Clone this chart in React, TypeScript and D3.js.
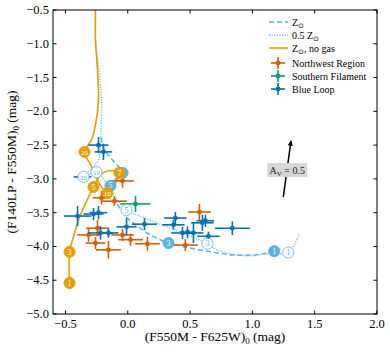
import React from 'react';
import * as d3 from 'd3';

// tick values
const xTicks = [-0.5, 0, 0.5, 1.0, 1.5, 2.0];
const yTicks = [-5.0, -4.5, -4.0, -3.5, -3.0, -2.5, -2.0, -1.5, -1.0, -0.5];

// model tracks [colour, colour]
const noGasTrack = [
  [-0.467, -4.54], [-0.467, -4.08], [-0.443, -3.9], [-0.379, -3.53], [-0.315, -3.27],
  [-0.275, -3.12], [-0.219, -2.94], [-0.155, -2.88], [-0.067, -2.91], [-0.098, -3.06],
  [-0.163, -3.21], [-0.243, -3.02], [-0.299, -2.79], [-0.347, -2.6], [-0.291, -2.42],
  [-0.259, -2.2], [-0.235, -1.83], [-0.243, -1.39], [-0.259, -0.94], [-0.259, -0.5], [-0.259, -0.3],
];
const solarTrack = [
  [1.175, -4.07], [1.087, -4.11], [0.879, -4.13], [0.663, -4.08], [0.463, -4.01],
  [0.327, -3.95], [0.182, -3.83], [0.062, -3.68], [-0.018, -3.55], [-0.075, -3.4],
  [-0.115, -3.25], [-0.139, -3.1], [-0.091, -2.99], [-0.042, -2.91], [-0.123, -2.72],
  [-0.195, -2.54], [-0.215, -2.35],
];
const halfSolarTrack = [
  [1.375, -3.82], [1.288, -4.09], [1.143, -4.1], [0.983, -4.14], [0.823, -4.11],
  [0.703, -4.04], [0.64, -3.96], [0.503, -3.85], [0.302, -3.7], [0.142, -3.58],
  [-0.01, -3.46], [-0.123, -3.21], [-0.251, -2.9], [-0.355, -2.97], [-0.235, -2.72],
  [-0.219, -2.42], [-0.211, -1.83], [-0.237, -1.3], [-0.259, -0.94], [-0.259, -0.3],
];

// age labels (Myr) along the tracks
const noGasAges = [
  ['1', -0.467, -4.54], ['3', -0.467, -4.08], ['5', -0.275, -3.12],
  ['7', -0.067, -2.91], ['10', -0.163, -3.21], ['20', -0.347, -2.6],
];
const solarAges = [
  ['1', 1.175, -4.07], ['3', 0.327, -3.95], ['5', -0.139, -3.1], ['7', -0.042, -2.91],
];
const halfSolarAges = [
  ['1', 1.288, -4.09], ['3', 0.64, -3.96], ['5', -0.01, -3.46], ['10', -0.251, -2.9], ['20', -0.355, -2.97],
];

// observed clusters: [colour, colour, xerr, yerr]
const northwest = [
  [-0.042, -3.03, 0.09, 0.1], [-0.211, -3.28, 0.07, 0.1], [-0.107, -3.33, 0.1, 0.07],
  [-0.243, -3.73, 0.09, 0.12], [-0.315, -3.83, 0.09, 0.1], [-0.259, -3.95, 0.08, 0.09],
  [-0.155, -4.05, 0.1, 0.13], [-0.042, -3.83, 0.09, 0.09], [0.022, -3.9, 0.1, 0.09],
  [0.158, -3.96, 0.1, 0.1], [0.462, -3.98, 0.1, 0.09], [0.575, -3.49, 0.09, 0.12],
];
const southern = [[0.062, -3.37, 0.12, 0.12]];
const blueLoop = [
  [-0.235, -2.5, 0.08, 0.12], [-0.195, -2.6, 0.07, 0.12], [-0.363, -2.97, 0.07, 0.06],
  [-0.403, -3.55, 0.11, 0.15], [-0.275, -3.52, 0.08, 0.09], [-0.235, -3.5, 0.07, 0.1],
  [-0.219, -3.8, 0.1, 0.1], [-0.155, -3.8, 0.08, 0.07], [-0.01, -3.71, 0.08, 0.13],
  [0.134, -3.67, 0.1, 0.09], [0.382, -3.58, 0.09, 0.09], [0.366, -3.68, 0.09, 0.07],
  [0.599, -3.65, 0.09, 0.12], [0.623, -3.62, 0.07, 0.09], [0.839, -3.73, 0.14, 0.1],
  [0.439, -3.8, 0.09, 0.09], [0.479, -3.79, 0.06, 0.09], [0.527, -3.8, 0.08, 0.15],
  [0.647, -3.85, 0.09, 0.07],
];

// reddening vector
const avStart = [1.248, -3.27];
const avVector = [0.063, 0.85];
const avLabelPos = [1.28, -2.87];

const FONT = "'Liberation Serif', 'Times New Roman', serif";
const TRACK_ORANGE = '#E69F00';
const TRACK_BLUE = '#56B4E9';
const NW_COLOR = '#D55E00';
const SF_COLOR = '#009E73';
const BL_COLOR = '#0072B2';

const W = 390;
const H = 352;
const L = 53, R = 377, T = 10, B = 314;

export default function App() {
  const x = d3.scaleLinear().domain([-0.6, 2.0]).range([L, R]);
  const y = d3.scaleLinear().domain([-5.0, -0.5]).range([B, T]);
  const fmt = d3.format('.1f');
  const line = d3.line<number[]>()
    .x((d) => x(d[0]))
    .y((d) => y(d[1]))
    .curve(d3.curveCatmullRom.alpha(0.5));

  const errPoints = (data: number[][], color: string, key: string) =>
    data.map((d, i) => (
      <g key={key + i} stroke={color} strokeWidth={1.6}>
        <line x1={x(d[0] - d[2])} x2={x(d[0] + d[2])} y1={y(d[1])} y2={y(d[1])} />
        <line x1={x(d[0])} x2={x(d[0])} y1={y(d[1] - d[3])} y2={y(d[1] + d[3])} />
        <circle cx={x(d[0])} cy={y(d[1])} r={2.4} fill={color} stroke="none" />
      </g>
    ));

  const ageMarks = (data: any[], fill: string, stroke: string, textColor: string, key: string) =>
    data.map((d, i) => (
      <g key={key + i}>
        <circle cx={x(d[1])} cy={y(d[2])} r={5.6} fill={fill} stroke={stroke} strokeWidth={0.8} />
        <text x={x(d[1])} y={y(d[2]) + 2.7} textAnchor="middle" fontSize={d[0].length > 1 ? 7 : 8}
          fill={textColor}>{d[0]}</text>
      </g>
    ));

  // arrow
  const ax1 = x(avStart[0]), ay1 = y(avStart[1]);
  const ax2 = x(avStart[0] + avVector[0]), ay2 = y(avStart[1] + avVector[1]);
  const ang = Math.atan2(ay2 - ay1, ax2 - ax1);
  const hl = 6, hw = 2.5;
  const head = [
    [ax2, ay2],
    [ax2 - hl * Math.cos(ang) + hw * Math.sin(ang), ay2 - hl * Math.sin(ang) - hw * Math.cos(ang)],
    [ax2 - hl * Math.cos(ang) - hw * Math.sin(ang), ay2 - hl * Math.sin(ang) + hw * Math.cos(ang)],
  ];

  const legendLines = [
    { label: 'Z', sub: '⊙', post: '', color: TRACK_BLUE, dash: '5,3', w: 1.5 },
    { label: '0.5 Z', sub: '⊙', post: '', color: TRACK_BLUE, dash: '1,1.6', w: 1.3 },
    { label: 'Z', sub: '⊙', post: ', no gas', color: TRACK_ORANGE, dash: '', w: 1.6 },
  ];
  const legendPoints = [
    { label: 'Northwest Region', color: NW_COLOR },
    { label: 'Southern Filament', color: SF_COLOR },
    { label: 'Blue Loop', color: BL_COLOR },
  ];

  return (
    <svg width={W} height={H} style={{ position: 'absolute', left: 0, top: 0, background: '#fff', fontFamily: FONT }}>
      <defs>
        <clipPath id="plot">
          <rect x={L} y={T} width={R - L} height={B - T} />
        </clipPath>
      </defs>

      <g clipPath="url(#plot)" fill="none">
        <path d={line(solarTrack) || ''} stroke={TRACK_BLUE} strokeWidth={1.5} strokeDasharray="5,3" />
        <path d={line(halfSolarTrack) || ''} stroke={TRACK_BLUE} strokeWidth={1.3} strokeDasharray="1,1.6" />
        <path d={line(noGasTrack) || ''} stroke={TRACK_ORANGE} strokeWidth={1.6} />
      </g>

      {errPoints(northwest, NW_COLOR, 'nw')}
      {errPoints(southern, SF_COLOR, 'sf')}
      {errPoints(blueLoop, BL_COLOR, 'bl')}

      {ageMarks(halfSolarAges, '#fff', TRACK_BLUE, TRACK_BLUE, 'hs')}
      {ageMarks(solarAges, TRACK_BLUE, TRACK_BLUE, '#fff', 's')}
      {ageMarks(noGasAges, TRACK_ORANGE, TRACK_ORANGE, '#fff', 'ng')}

      {/* reddening vector */}
      <line x1={ax1} y1={ay1} x2={ax2 - 3 * Math.cos(ang)} y2={ay2 - 3 * Math.sin(ang)} stroke="#000" strokeWidth={1.5} />
      <polygon points={head.map((p) => p.join(',')).join(' ')} fill="#000" />
      <rect x={x(avLabelPos[0]) - 20} y={y(avLabelPos[1]) - 7} width={40} height={14} fill="#d6d6d6" />
      <text x={x(avLabelPos[0])} y={y(avLabelPos[1]) + 3.5} textAnchor="middle" fontSize={10} fill="#222">
        A<tspan fontSize={7} dy={2}>V</tspan><tspan dy={-2}> = 0.5</tspan>
      </text>

      {/* frame */}
      <rect x={L} y={T} width={R - L} height={B - T} fill="none" stroke="#000" strokeWidth={1} />
      {xTicks.map((t) => (
        <g key={'xt' + t}>
          <line x1={x(t)} x2={x(t)} y1={B} y2={B - 3.5} stroke="#000" />
          <line x1={x(t)} x2={x(t)} y1={T} y2={T + 3.5} stroke="#000" />
          <text x={x(t)} y={B + 13.5} textAnchor="middle" fontSize={12.5} fill="#000">{fmt(t)}</text>
        </g>
      ))}
      {yTicks.map((t) => (
        <g key={'yt' + t}>
          <line x1={L} x2={L + 3.5} y1={y(t)} y2={y(t)} stroke="#000" />
          <line x1={R} x2={R - 3.5} y1={y(t)} y2={y(t)} stroke="#000" />
          <text x={L - 4} y={y(t) + 4} textAnchor="end" fontSize={12.5} fill="#000">{fmt(t)}</text>
        </g>
      ))}

      <text x={(L + R) / 2} y={341} textAnchor="middle" fontSize={13.5} fill="#000">
        (F550M - F625W)<tspan fontSize={9} dy={3}>0</tspan><tspan dy={-3}> (mag)</tspan>
      </text>
      <text transform={`translate(16,${(T + B) / 2}) rotate(-90)`} textAnchor="middle" fontSize={13.5} fill="#000">
        (F140LP - F550M)<tspan fontSize={9} dy={3}>0</tspan><tspan dy={-3}> (mag)</tspan>
      </text>

      {/* legend */}
      {legendLines.map((d, i) => {
        const ly = 22 + i * 13;
        return (
          <g key={'ll' + i}>
            <line x1={269} x2={288} y1={ly} y2={ly} stroke={d.color} strokeWidth={d.w}
              strokeDasharray={d.dash || undefined} />
            <text x={292} y={ly + 3.5} fontSize={10} fill="#000">
              {d.label}<tspan fontSize={7} dy={2}>{d.sub}</tspan><tspan dy={-2}>{d.post}</tspan>
            </text>
          </g>
        );
      })}
      {legendPoints.map((d, i) => {
        const ly = 63 + i * 13;
        return (
          <g key={'lp' + i}>
            <g stroke={d.color} strokeWidth={1.6}>
              <line x1={271} x2={285} y1={ly} y2={ly} />
              <line x1={278} x2={278} y1={ly - 6} y2={ly + 6} />
            </g>
            <circle cx={278} cy={ly} r={2.4} fill={d.color} />
            <text x={292} y={ly + 3.5} fontSize={10} fill="#000">{d.label}</text>
          </g>
        );
      })}
    </svg>
  );
}
